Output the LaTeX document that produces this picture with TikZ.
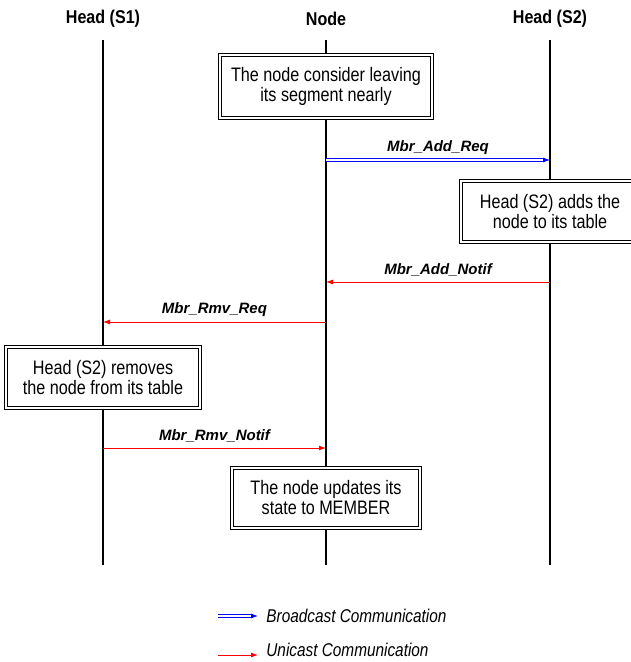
\documentclass[tikz,border=0pt]{standalone}
\usepackage{fontspec}
\setmainfont{Liberation Sans}
\newfontfamily\narrowsf[FakeStretch=0.83]{Liberation Sans}
\newfontfamily\headsf[FakeStretch=0.87]{Liberation Sans}
\usetikzlibrary{arrows.meta}
\tikzset{
  >={Latex[length=7pt,width=5pt]},
}
\tikzstyle{every node}=[font=\narrowsf\fontsize{19.5}{20}\selectfont]
\tikzstyle{lifeline}=[line width=2.4pt]
\tikzstyle{actor}=[font=\headsf\fontsize{18.5}{20}\selectfont\bfseries]
\tikzstyle{action}=[draw,fill=white,line width=1.1pt,double,double distance=2pt,align=center,inner sep=0pt]
\tikzstyle{bcast}=[->,draw=blue,double=white,double distance=1.6pt,line width=0.8pt]
\tikzstyle{ucast}=[->,red,line width=0.8pt]
\tikzstyle{msg}=[above=2pt,text=black,font=\fontsize{15}{17}\selectfont\bfseries\itshape]
\tikzstyle{legend}=[right,inner sep=0pt,text=black,font=\narrowsf\fontsize{18.5}{20}\selectfont\itshape]

\begin{document}
\begin{tikzpicture}[x=1pt,y=-1pt]
    \useasboundingbox (0,0) rectangle (630,662);
    % lifelines
    \node[actor] (s1) at (103,19) {Head (S1)};
    \node[actor] (nd) at (326,19) {Node};
    \node[actor] (s2) at (550,19) {Head (S2)};
    \foreach \x/\n in {103/a,326/b,550/c}{
      \coordinate (\n top) at (\x,40);
      \coordinate (\n bot) at (\x,565);
      \draw[lifeline] (\n top)--(\n bot);
    }
    % actions
    \node[action,minimum width=212pt,minimum height=63pt] (leave) at (326,86.5)
      {The node consider leaving\\its segment nearly};
    \node[action,minimum width=178pt,minimum height=61pt] (adds) at (550,211.5)
      {Head (S2) adds the\\node to its table};
    \node[action,minimum width=194pt,minimum height=61pt] (rmv) at (103,377.5)
      {Head (S2) removes\\the node from its table};
    \node[action,minimum width=188pt,minimum height=60pt] (upd) at (326,498)
      {The node updates its\\state to MEMBER};
    % messages
    \coordinate (b1) at (326,160); \coordinate (c1) at (550,160);
    \coordinate (c2) at (550,282); \coordinate (b2) at (326,282);
    \coordinate (b3) at (326,322); \coordinate (a3) at (103,322);
    \coordinate (a4) at (103,448); \coordinate (b4) at (326,448);
    \draw[bcast] (b1)--(c1) node[msg,midway]{Mbr\_Add\_Req};
    \draw[ucast] (c2)--(b2) node[msg,midway]{Mbr\_Add\_Notif};
    \draw[ucast] (b3)--(a3) node[msg,midway]{Mbr\_Rmv\_Req};
    \draw[ucast] (a4)--(b4) node[msg,midway]{Mbr\_Rmv\_Notif};
    % legend
    \coordinate (l1) at (218,616); \coordinate (l2) at (258,616);
    \coordinate (l3) at (218,655); \coordinate (l4) at (258,655);
    \draw[bcast] (l1)--(l2) node[legend,xshift=8pt]{Broadcast Communication};
    \draw[ucast] (l3)--(l4) node[legend,xshift=8pt,yshift=5pt]{Unicast Communication};
\end{tikzpicture}
\end{document}
